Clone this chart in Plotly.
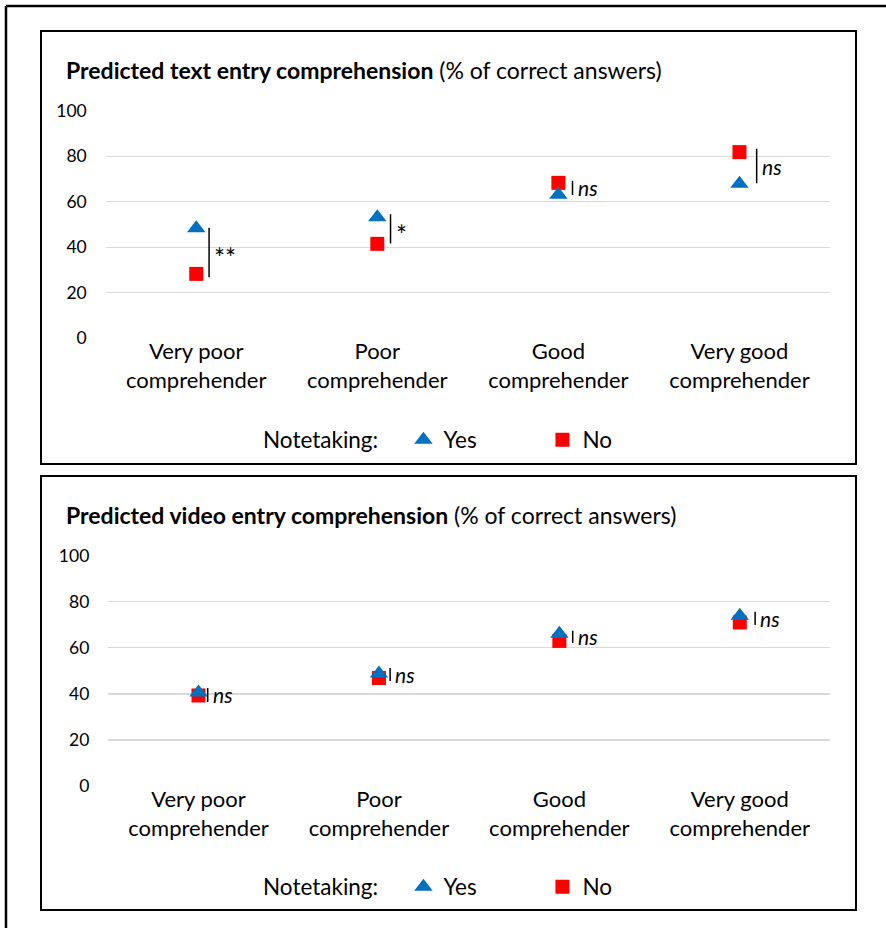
import plotly.graph_objects as go

# ---------------- data ----------------
categories = ["Very poor<br>comprehender", "Poor<br>comprehender",
              "Good<br>comprehender", "Very good<br>comprehender"]
y_ticks = [0, 20, 40, 60, 80, 100]

text_yes = [48.3, 53.2, 63.1, 67.9]
text_no = [28.3, 41.5, 68.3, 81.8]
text_sig = ["**", "*", "<i>ns</i>", "<i>ns</i>"]
text_bar_lo = [26.8, 41.7, 63.0, 68.1]
text_bar_hi = [48.6, 54.5, 69.2, 83.3]

video_yes = [40.6, 48.9, 66.1, 73.9]
video_no = [39.3, 46.9, 63.0, 71.0]
video_sig = ["<i>ns</i>", "<i>ns</i>", "<i>ns</i>", "<i>ns</i>"]
video_bar_lo = [36.5, 45.6, 62.1, 69.9]
video_bar_hi = [42.6, 51.2, 67.4, 75.7]

# ---------------- style ----------------
W, H = 886, 928
FONT = "Lato"
BLUE = "#0070C0"
RED = "#FF0000"
GRID = "#D9D9D9"
text_bar_dx = [0.071, 0.073, 0.078, 0.095]
video_bar_dx = [0.051, 0.062, 0.074, 0.085]


def px(x):
    return x / W


def py(y):
    return 1 - y / H


fig = go.Figure()

panels = [
    dict(xa="x", ya="y", yes=text_yes, no=text_no, sig=text_sig,
         lo=text_bar_lo, hi=text_bar_hi, dx=text_bar_dx, legend="legend",
         xdom=[px(105.7), px(830)], ydom=[py(338.3), py(110.7)],
         title="<b>Predicted text entry comprehension</b> (% of correct answers)",
         title_y=70, box=(41, 31, 856, 464), leg_y=440),
    dict(xa="x2", ya="y2", yes=video_yes, no=video_no, sig=video_sig,
         lo=video_bar_lo, hi=video_bar_hi, dx=video_bar_dx, legend="legend2",
         xdom=[px(108.3), px(830)], ydom=[py(786), py(555.7)],
         title="<b>Predicted video entry comprehension</b> (% of correct answers)",
         title_y=515, box=(41, 476, 856, 910), leg_y=887),
]

shapes = []
annotations = []
for i, p in enumerate(panels):
    fig.add_trace(go.Scatter(
        x=categories, y=p["no"], mode="markers", name="No",
        marker=dict(symbol="square", size=14, color=RED),
        xaxis=p["xa"], yaxis=p["ya"], legend=p["legend"], legendrank=2,
        cliponaxis=False, hoverinfo="skip"))
    fig.add_trace(go.Scatter(
        x=categories, y=p["yes"], mode="markers", name="Yes",
        marker=dict(symbol="triangle-up", size=16, color=BLUE),
        xaxis=p["xa"], yaxis=p["ya"], legend=p["legend"], legendrank=1,
        cliponaxis=False, hoverinfo="skip"))

    for k in range(len(categories)):
        xk = k + p["dx"][k]
        shapes.append(dict(type="line", xref=p["xa"], yref=p["ya"],
                           x0=xk, x1=xk, y0=p["lo"][k], y1=p["hi"][k],
                           line=dict(color="black", width=1.5)))
        is_star = "ns" not in p["sig"][k]
        annotations.append(dict(
            xref=p["xa"], yref=p["ya"], x=xk, y=(p["lo"][k] + p["hi"][k]) / 2,
            text=p["sig"][k], showarrow=False, xanchor="left", yanchor="middle",
            xshift=3, yshift=-6 if is_star else 0,
            font=dict(family=FONT, size=26 if is_star else 21, color="black")))

    annotations.append(dict(
        xref="paper", yref="paper", x=px(64), y=py(p["title_y"]),
        text=p["title"], showarrow=False, xanchor="left", yanchor="middle",
        font=dict(family=FONT, size=23, color="black")))

    x0, y0, x1, y1 = p["box"]
    shapes.append(dict(type="rect", xref="paper", yref="paper",
                       x0=px(x0), x1=px(x1), y0=py(y1), y1=py(y0),
                       line=dict(color="black", width=2), layer="below"))

# outer frame (top + left)
shapes.append(dict(type="line", xref="paper", yref="paper",
                   x0=px(6), x1=1.0, y0=py(6), y1=py(6),
                   line=dict(color="black", width=2.5)))
shapes.append(dict(type="line", xref="paper", yref="paper",
                   x0=px(6), x1=px(6), y0=py(6), y1=0,
                   line=dict(color="black", width=2.5)))

axis_common_x = dict(type="category", range=[-0.5, 3.5], showgrid=False,
                     zeroline=False, showline=False, ticks="",
                     automargin=False, ticklabelstandoff=-2,
                     tickfont=dict(family=FONT, size=22, color="black"),
                     fixedrange=True)
axis_common_y = dict(range=[0, 100], tickvals=y_ticks, showgrid=True,
                     gridcolor=GRID, gridwidth=1.3, zeroline=False,
                     showline=False, ticks="", ticklabelstandoff=18,
                     automargin=False,
                     tickfont=dict(family=FONT, size=17.5, color="black"),
                     fixedrange=True)

legend_common = dict(orientation="h", xanchor="left", yanchor="middle",
                     title=dict(text="Notetaking:   ", side="left",
                                font=dict(family=FONT, size=22.5, color="black")),
                     font=dict(family=FONT, size=22.5, color="black"),
                     bgcolor="rgba(0,0,0,0)", entrywidth=94,
                     entrywidthmode="pixels", traceorder="normal",
                     itemclick=False, itemdoubleclick=False)

fig.update_layout(
    template="none",
    width=W, height=H,
    margin=dict(l=0, r=0, t=0, b=0, pad=0, autoexpand=False),
    paper_bgcolor="white", plot_bgcolor="white",
    font=dict(family=FONT, color="black"),
    hovermode=False,
    xaxis=dict(domain=panels[0]["xdom"], anchor="y", **axis_common_x),
    yaxis=dict(domain=panels[0]["ydom"], anchor="x", **axis_common_y),
    xaxis2=dict(domain=panels[1]["xdom"], anchor="y2", **axis_common_x),
    yaxis2=dict(domain=panels[1]["ydom"], anchor="x2", **axis_common_y),
    legend=dict(x=px(261), y=py(panels[0]["leg_y"]), **legend_common),
    legend2=dict(x=px(261), y=py(panels[1]["leg_y"]), **legend_common),
    shapes=shapes, annotations=annotations,
    showlegend=True,
)

fig.write_html("out.html",
               config=dict(displayModeBar=False, staticPlot=True),
               post_script="document.body.style.margin='0px';")
